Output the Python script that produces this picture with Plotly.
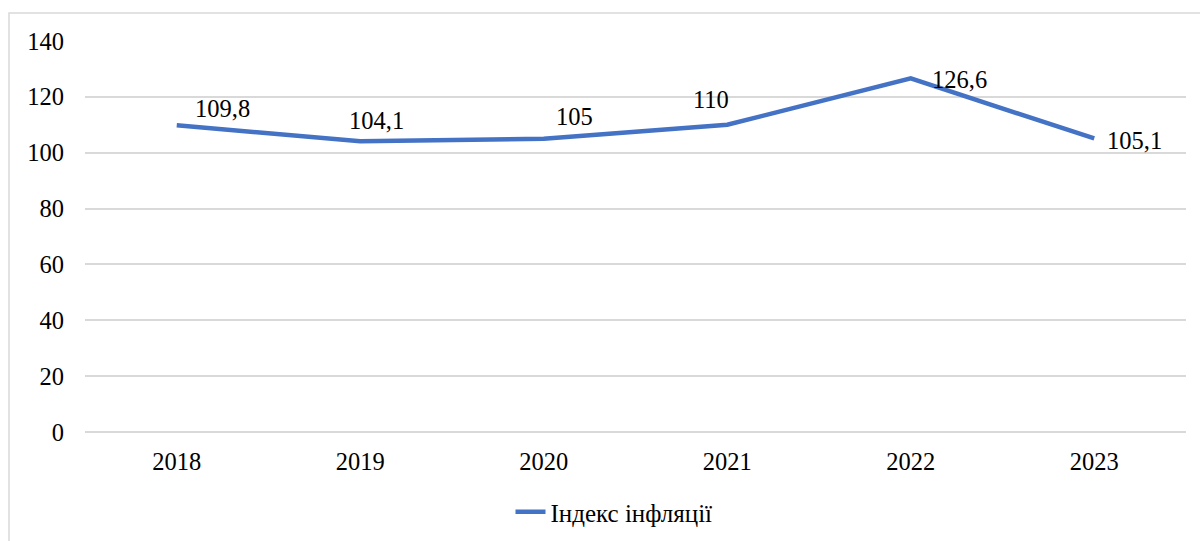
import plotly.graph_objects as go

years = ["2018", "2019", "2020", "2021", "2022", "2023"]
inflation_index = [109.8, 104.1, 105, 110, 126.6, 105.1]
value_labels = ["109,8", "104,1", "105", "110", "126,6", "105,1"]
series_name = "Індекс інфляції"
y_ticks = [0, 20, 40, 60, 80, 100, 120, 140]

# label offsets (pixels) for the data labels, style only
label_dx = [46, 16, 31, -16, 49, 40]
label_dy = [17, 21, 22, 25, -1, -2]

FONT = "Liberation Serif"
FS = 24.5
W, H = 1200, 541
ml, mr, mt, mb = 85, 14, 41, 109

fig = go.Figure()
fig.add_trace(go.Scatter(
    x=years, y=inflation_index, mode="lines", name=series_name,
    line=dict(color="#4472C4", width=4.5),
))

for i, (y, t, dx, dy) in enumerate(zip(inflation_index, value_labels, label_dx, label_dy)):
    fig.add_annotation(x=i, y=y, xref="x", yref="y", text=t, showarrow=False,
                       xshift=dx, yshift=dy,
                       font=dict(family=FONT, size=FS, color="#000000"))

pw = W - ml - mr
ph = H - mt - mb
fig.add_shape(type="rect", xref="paper", yref="paper",
              x0=(9 - ml) / pw, x1=(1215 - ml) / pw,
              y0=-(560 - mt - ph) / ph, y1=(H - 13 - mb) / ph,
              line=dict(color="#D9D9D9", width=1.5), fillcolor="rgba(0,0,0,0)", layer="below")

fig.update_layout(
    width=W, height=H,
    margin=dict(l=ml, r=mr, t=mt, b=mb, autoexpand=False),
    plot_bgcolor="white", paper_bgcolor="white",
    font=dict(family=FONT, size=FS, color="#000000"),
    showlegend=True,
    legend=dict(orientation="h", x=614 / W, xanchor="center", xref="container",
                y=1 - 512 / H, yanchor="middle", yref="container",
                font=dict(family=FONT, size=25, color="#000000")),
    xaxis=dict(type="category", range=[-0.5, 5.5], showgrid=False, showline=False,
               zeroline=False, ticks="", ticklabelstandoff=12, automargin=False),
    yaxis=dict(range=[0, 140], tickvals=y_ticks, showgrid=True, gridcolor="#D9D9D9",
               gridwidth=1.5, zeroline=True, zerolinecolor="#D9D9D9", zerolinewidth=1.5,
               showline=False, ticks="", ticklabelstandoff=20, automargin=False),
)

fig.write_html("out.html", config={"displayModeBar": False},
               post_script="document.body.style.margin='0';")
